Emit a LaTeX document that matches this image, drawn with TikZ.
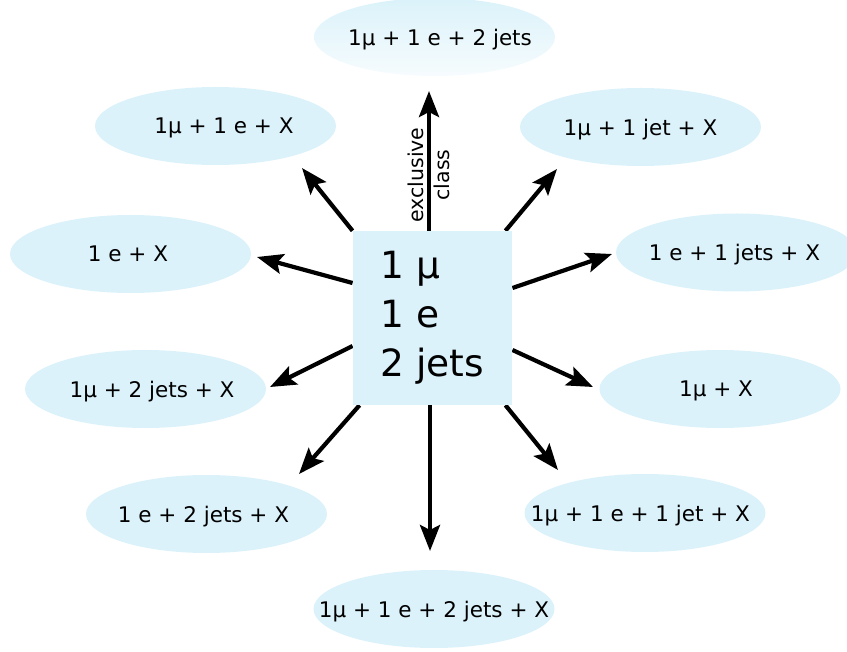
\documentclass[tikz,border=0pt]{standalone}
\usepackage{fontspec}
\setmainfont{DejaVu Sans}
\usetikzlibrary{shapes.geometric,arrows.meta,backgrounds}
\definecolor{ell}{RGB}{219,242,250}
\begin{document}
\begin{tikzpicture}[x=1pt,y=-1pt,
  ellnode/.style={ellipse, fill=ell, minimum width=241pt, minimum height=78pt, inner sep=-32pt, text depth=0pt, font=\fontsize{21.5}{25}\selectfont},
  boxnode/.style={rectangle, fill=ell, minimum width=159pt, minimum height=174pt, inner xsep=28pt, inner ysep=0pt, align=left, font=\fontsize{37.5}{49}\selectfont},
  arr/.style={line width=4.2pt, -{Stealth[length=26pt,width=20pt,inset=5pt]}},
  lbl/.style={font=\fontsize{20.5}{25.5}\selectfont, rotate=90, align=center}
]
\useasboundingbox (0,0) rectangle (847,652);
\clip (0,0) rectangle (847,652);

\node[ellnode, fill=none, top color=ell, bottom color=ell!25!white] (e1) at (434.5,37) {\hspace*{11pt}1μ + 1 e + 2 jets};
\node[ellnode] (e2) at (215.5,126) {\hspace*{17pt}1μ + 1 e + X};
\node[ellnode] (e3) at (640.5,127) {1μ + 1 jet + X};
\node[ellnode] (e4) at (130.5,254) {1 e + X\hspace*{5pt}};
\node[ellnode] (e5) at (736.5,252.5) {1 e + 1 jets + X\hspace*{4pt}};
\node[ellnode] (e6) at (145.5,389) {\hspace*{13pt}1μ + 2 jets + X};
\node[ellnode] (e7) at (720,389) {1μ + X\hspace*{8pt}};
\node[ellnode] (e8) at (206.5,514) {1 e + 2 jets + X\hspace*{6pt}};
\node[ellnode] (e9) at (645,513) {1μ + 1 e + 1 jet + X\hspace*{9pt}};
\node[ellnode] (e10) at (434,609) {1μ + 1 e + 2 jets + X};

\node[boxnode] (box) at (432.5,318) {1 μ\\1 e\\2 jets};

\coordinate (t1) at (429,91);
\coordinate (t2) at (302,168);
\coordinate (t3) at (557,169);
\coordinate (t4) at (257,257);
\coordinate (t5) at (612,254);
\coordinate (t6) at (270,387);
\coordinate (t7) at (593,387);
\coordinate (t8) at (299,474);
\coordinate (t9) at (558,470);
\coordinate (t10) at (430,551);

\begin{scope}[on background layer]
\draw[arr] ([xshift=-3.5pt]box.north) -- (t1);
\draw[arr] (box.north west) -- (t2);
\draw[arr] ([xshift=-7pt]box.north east) -- (t3);
\draw[arr] ([yshift=35pt]box.west) -- (t4);
\draw[arr] ([yshift=30pt]box.east) -- (t5);
\draw[arr] ([yshift=-28pt]box.west) -- (t6);
\draw[arr] ([yshift=-32pt]box.east) -- (t7);
\draw[arr] ([xshift=7pt]box.south west) -- (t8);
\draw[arr] ([xshift=-7pt]box.south east) -- (t9);
\draw[arr] ([xshift=-2.5pt]box.south) -- (t10);
\end{scope}

\node[lbl] (cls) at (429,175) {exclusive\\class};
\end{tikzpicture}
\end{document}
